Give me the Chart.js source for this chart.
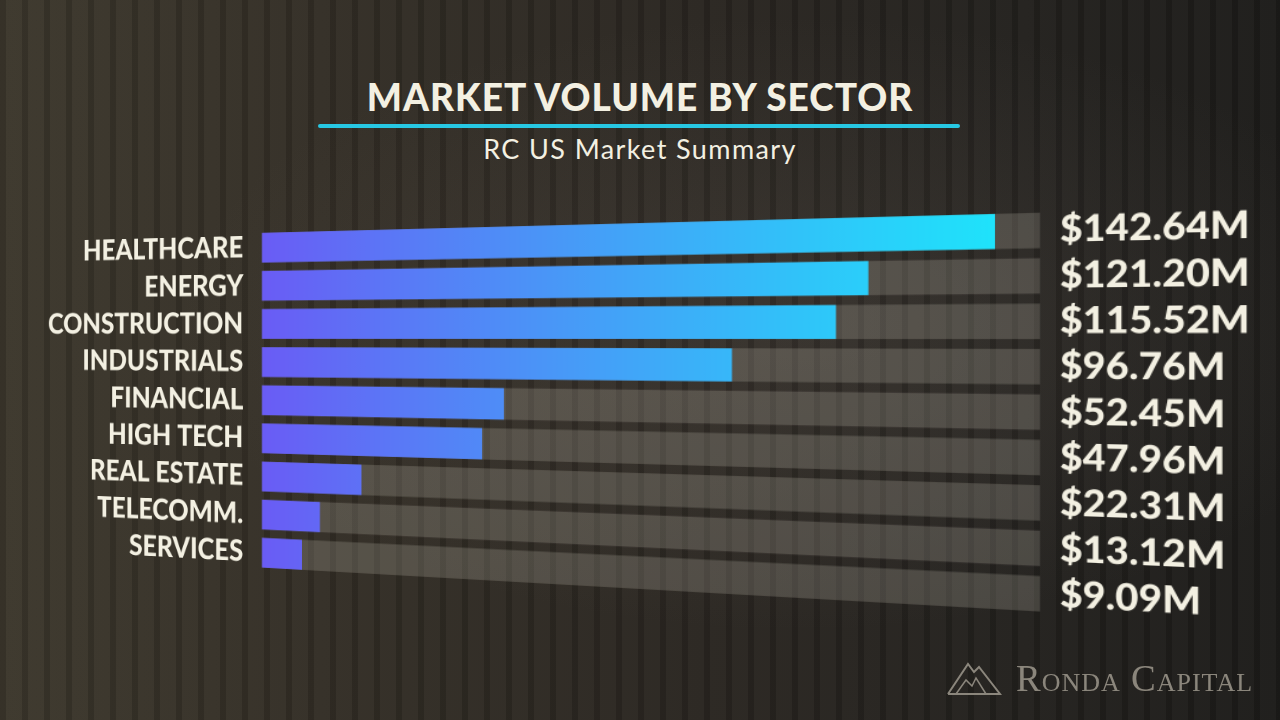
<!DOCTYPE html>
<html>
<head>
<meta charset="utf-8">
<script src="https://cdn.jsdelivr.net/npm/chart.js@4"></script>
<style>
  html, body { margin: 0; padding: 0; }
  body {
    width: 1280px; height: 720px; overflow: hidden; position: relative;
    background:
      repeating-linear-gradient(90deg, rgba(0,0,0,0.10) 0px, rgba(0,0,0,0.10) 6px, rgba(255,255,255,0.02) 6px, rgba(255,255,255,0.02) 22px),
      radial-gradient(ellipse at 62% 45%, rgba(120,110,100,0.18) 0%, rgba(0,0,0,0) 55%),
      linear-gradient(90deg, #3c372c 0%, #332e26 25%, #2a2621 55%, #23211e 80%, #1d1c1a 100%);
    font-family: Lato, "Open Sans", sans-serif;
  }
  #title {
    position: absolute; left: 0; width: 1280px; top: 74px; text-align: center;
    color: #f3f0e2; font-weight: 900; font-size: 37px; letter-spacing: 1px;
  }
  #rule { position: absolute; left: 318px; width: 642px; top: 124px; height: 4px; background: #27c8e3; border-radius: 2px; }
  #subtitle {
    position: absolute; left: 0; width: 1280px; top: 132px; text-align: center;
    color: #f3f0e2; font-weight: 400; font-size: 27px; letter-spacing: 1.4px;
  }
  /* painel das barras inclinado em perspectiva */
  #panel {
    position: absolute; left: -80px; top: 196px; width: 1320px; height: 420px;
    transform-origin: 720px 210px;
    transform: perspective(1000px) skewY(0.88deg) rotateY(-12.68deg);
  }
  #logo { position: absolute; left: 946px; top: 656px; height: 44px; display: flex; align-items: center; }
  #logo span {
    font-family: "Liberation Serif", "DejaVu Serif", serif; font-variant: small-caps;
    font-size: 37px; color: #8b867c; margin-left: 14px; letter-spacing: 1px;
  }
</style>
</head>
<body>
<div id="title">MARKET VOLUME BY SECTOR</div>
<div id="rule"></div>
<div id="subtitle">RC US Market Summary</div>

<div id="panel"><canvas id="sector_volume"></canvas></div>

<div id="logo">
  <svg width="56" height="36" viewBox="0 0 56 36">
    <polyline points="2,34 22,4 28,12 33,7 54,34 2,34" fill="none" stroke="#8b867c" stroke-width="2"/>
    <polyline points="10,34 20,20 26,26 30,18 40,34" fill="none" stroke="#8b867c" stroke-width="1.5"/>
  </svg>
  <span>Ronda Capital</span>
</div>

<script>
// dados do gráfico
const sectors = ['HEALTHCARE', 'ENERGY', 'CONSTRUCTION', 'INDUSTRIALS', 'FINANCIAL', 'HIGH TECH', 'REAL ESTATE', 'TELECOMM.', 'SERVICES'];
const volumes = [142.64, 121.20, 115.52, 96.76, 52.45, 47.96, 22.31, 13.12, 9.09]; // milhões de dólares
const volumeLabels = ['$142.64M', '$121.20M', '$115.52M', '$96.76M', '$52.45M', '$47.96M', '$22.31M', '$13.12M', '$9.09M'];
const scaleMax = 150;

const cream = '#f3f0e2';

// faixas cinzas atrás das barras
const trackPlugin = {
  id: 'tracks',
  beforeDatasetsDraw(chart) {
    const ctx = chart.ctx;
    const area = chart.chartArea;
    const meta = chart.getDatasetMeta(0);
    ctx.save();
    ctx.fillStyle = 'rgba(200,194,182,0.22)';
    meta.data.forEach(function(bar) {
      ctx.fillRect(area.left, bar.y - bar.height / 2, area.right - area.left, bar.height);
    });
    ctx.restore();
  }
};

// degradê roxo -> ciano
function barGradient(context) {
  const chart = context.chart;
  const area = chart.chartArea;
  if (!area) return '#6a5cf5';
  const x = chart.scales.x;
  const g = chart.ctx.createLinearGradient(x.getPixelForValue(0), 0, x.getPixelForValue(Math.max(...volumes)), 0);
  g.addColorStop(0, '#6a5cf5');
  g.addColorStop(1, '#1fe3fb');
  return g;
}

// largura fixa dos eixos e sem folga extra em cima/embaixo
function fixAxis(width) {
  return function(axis) {
    axis.width = width;
    axis.paddingTop = 0;
    axis.paddingBottom = 0;
  };
}

const ctxVolume = document.getElementById('sector_volume').getContext('2d');
const chartVolume = new Chart(ctxVolume, {
  type: 'bar',
  data: {
    labels: sectors,
    datasets: [{
      data: volumes,
      backgroundColor: barGradient,
      borderWidth: 0,
      categoryPercentage: 1,
      barPercentage: 0.78
    }]
  },
  plugins: [trackPlugin],
  options: {
    indexAxis: 'y',
    responsive: true,
    maintainAspectRatio: false,
    devicePixelRatio: 2,
    animation: false,
    layout: { padding: { top: 22.5, bottom: 22.5, left: 0, right: 0 } },
    plugins: { legend: { display: false }, tooltip: { enabled: false } },
    scales: {
      x: { min: 0, max: scaleMax, display: false },
      y: {
        position: 'left',
        grid: { display: false, drawTicks: false },
        border: { display: false },
        ticks: { color: cream, padding: 23, font: { family: 'Lato', weight: '900', size: 32 } },
        afterFit: fixAxis(296.5)
      },
      y2: {
        type: 'category',
        labels: volumeLabels,
        position: 'right',
        offset: true,
        grid: { display: false, drawTicks: false },
        border: { display: false },
        ticks: { color: cream, padding: 17, autoSkip: false, font: { family: 'Lato', weight: '900', size: 33.5 } },
        afterFit: fixAxis(223.8)
      }
    }
  }
});
</script>
</body>
</html>
